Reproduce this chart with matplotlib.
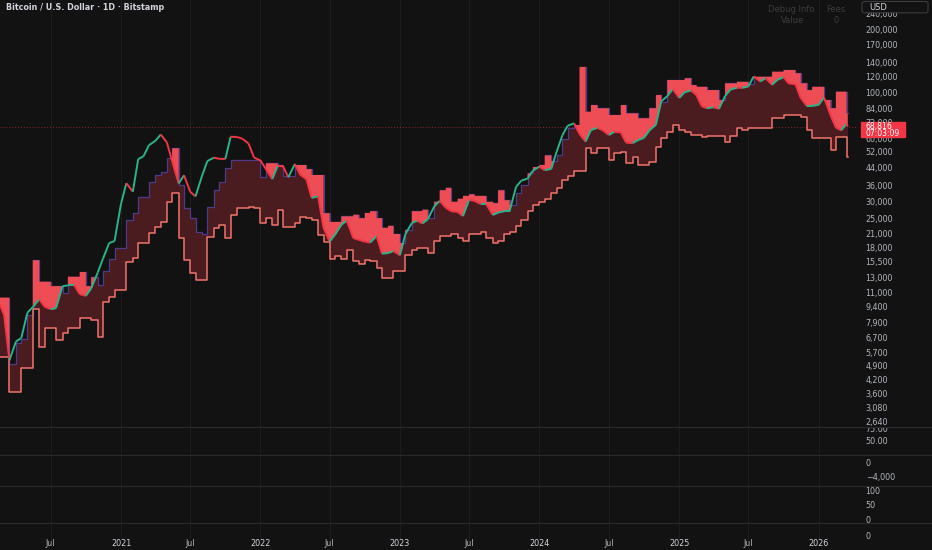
import numpy as np
import pandas as pd
import matplotlib
matplotlib.use("Agg")
import matplotlib.pyplot as plt
import matplotlib.dates as mdates
from matplotlib.collections import LineCollection
from matplotlib.lines import Line2D
from matplotlib.patches import Rectangle, FancyBboxPatch
from matplotlib.ticker import FixedLocator, NullLocator, FuncFormatter
from matplotlib.transforms import blended_transform_factory, Bbox, TransformedBbox

W, H = 932, 550

# semi-monthly samples (1st / 15th), last one is the live bar
dates = list(pd.date_range("2020-02-15", "2026-03-15", freq="SMS")) + [pd.Timestamp("2026-03-18")]

close_2020 = [10000, 8600, 5200, 6400, 6650, 8800, 9350, 10200, 9400, 9150, 9250,
              11800, 11900, 11900, 10800, 10600, 11500, 13700, 16000, 19000, 19400]
upper_2020 = [10400, 10400, 5000, 6300, 6600, 8600, 15700, 12400, 12400, 11800, 11800,
              11000, 13100, 13100, 13800, 11800, 13000, 12000, 14000, 16000, 18000]
lower_2020 = [5400, 5400, 3680, 3680, 4770, 4770, 9200, 6040, 7400, 7400, 6530,
              7050, 7400, 7400, 8270, 8270, 8100, 6750, 9940, 10500, 11300]

close_2021 = [29300, 36800, 33500, 48000, 49600, 56000, 58800, 63000, 57800, 46800, 36700, 40200,
              33500, 31800, 39900, 47000, 48800, 48200, 48100, 61500, 61300, 60100, 57000, 48900]
upper_2021 = [18000, 24500, 26400, 31700, 31700, 37400, 40300, 41800, 48400, 54100, 36000, 28000,
              25000, 21500, 21000, 28400, 34100, 37400, 43400, 47600, 47600, 47600, 47600, 47600]
lower_2021 = [11300, 15470, 16050, 18940, 18940, 21150, 22760, 24050, 30000, 32900, 20000, 15760,
              13600, 12630, 12630, 20390, 22360, 23190, 20000, 25900, 27880, 27880, 28400, 27880]

close_2022 = [47300, 43100, 38500, 44500, 44400, 39300, 45500, 40400, 38500, 31300, 31800, 22500,
              19300, 20800, 23300, 24300, 20100, 19700, 19300, 19100, 20500, 16900, 17000, 17400]
upper_2022 = [39550, 45850, 45850, 45000, 40000, 40000, 45000, 45000, 43000, 40300, 40300, 26400,
              24000, 24000, 25500, 25500, 26000, 25000, 26500, 27000, 25000, 22500, 23000, 21000]
lower_2022 = [23610, 24960, 23190, 27370, 22760, 22760, 23610, 25430, 24960, 24500, 20770, 19290,
              16000, 16500, 16000, 17500, 15500, 15000, 15800, 15500, 14500, 12900, 12900, 14000]

close_2023 = [16600, 20900, 23700, 24300, 23600, 24700, 28500, 30300, 28100, 27000, 26800, 25600,
              30600, 30300, 29200, 29200, 25900, 26600, 27000, 27000, 35400, 37900, 38700, 42300]
upper_2023 = [19000, 22000, 27000, 27000, 27500, 25000, 30000, 34000, 35000, 30000, 31000, 32000,
              32500, 32000, 32000, 30000, 29500, 34000, 30500, 29000, 33000, 36000, 41000, 44000]
lower_2023 = [14000, 16600, 17500, 18000, 18000, 17000, 19500, 20500, 20500, 21000, 20000, 19500,
              21000, 21000, 21500, 20000, 19000, 19500, 21000, 21500, 23000, 24500, 27000, 29000]

close_2024 = [44200, 42500, 43100, 52000, 62400, 69500, 71300, 63400, 58300, 66200, 67800, 66000,
              62700, 64800, 64600, 57600, 57300, 59200, 60800, 66000, 70200, 91000, 96400, 104300]
upper_2024 = [45000, 50000, 47000, 50000, 60000, 68000, 70000, 133000, 81100, 87300, 84200, 84200,
              78200, 78200, 87300, 79600, 79600, 75400, 75400, 84200, 97500, 90000, 115100, 115100]
lower_2024 = [30000, 31000, 33000, 35000, 38000, 40000, 42000, 42000, 54100, 51200, 54100, 54100,
              47600, 51200, 52100, 45900, 49300, 45000, 45000, 46700, 55100, 60400, 65000, 70000]

close_2025 = [94400, 100500, 102400, 97500, 86000, 84300, 85200, 83700, 96500, 103500, 105700, 105500,
              107100, 119800, 113300, 117400, 109200, 115300, 118600, 110700, 110000, 94400, 86300, 86400]
upper_2025 = [115100, 117300, 108900, 106800, 106800, 103000, 103000, 92300, 110900, 110900, 112900, 112900,
              110000, 119400, 119400, 119400, 126200, 126200, 128500, 128500, 124000, 110900, 103000, 106800]
lower_2025 = [66300, 65000, 62700, 62700, 61500, 62000, 62000, 62000, 58200, 62000, 67500, 66300,
              67500, 67500, 67500, 67500, 75400, 75400, 78200, 78200, 78200, 76700, 66300, 60400]

close_2026 = [87500, 95000, 78000, 68000, 66000, 71000, 68816]
upper_2026 = [106800, 92300, 84200, 101200, 101200, 79600, 79600]
lower_2026 = [60400, 60400, 53100, 61500, 61500, 49300, 49300]

close = np.array(close_2020 + close_2021 + close_2022 + close_2023 + close_2024 + close_2025 + close_2026, float)
upper = np.array(upper_2020 + upper_2021 + upper_2022 + upper_2023 + upper_2024 + upper_2025 + upper_2026, float)
lower = np.array(lower_2020 + lower_2021 + lower_2022 + lower_2023 + lower_2024 + lower_2025 + lower_2026, float)

last_price = 68816
price_ticks = [240000, 200000, 170000, 140000, 120000, 100000, 84000, 72000, 60000, 52000, 44000,
               36000, 30000, 25000, 21000, 18000, 15500, 13000, 11000, 9400, 7900, 6700, 5700,
               4900, 4200, 3600, 3080, 2640]
time_ticks = ["2020-07-01", "2021-01-01", "2021-07-01", "2022-01-01", "2022-07-01", "2023-01-01",
              "2023-07-01", "2024-01-01", "2024-07-01", "2025-01-01", "2025-07-01", "2026-01-01"]
time_labels = ["Jul", "2021", "Jul", "2022", "Jul", "2023", "Jul", "2024", "Jul", "2025", "Jul", "2026"]

BG = "#121212"
GRID = "#1d1d1d"
TXT = "#b2b5be"
GREEN = "#2bb38a"
RED = "#f23645"
BRIGHT = "#ee4d55"
DARK = "#4a1c1f"
LOWLINE = "#f0736c"


def box(x0, y0, x1, y1):
    # pixel box (top-left origin) -> figure fraction rect
    return [x0 / W, 1 - y1 / H, (x1 - x0) / W, (y1 - y0) / H]


fig = plt.figure(figsize=(W / 100, H / 100), dpi=100, facecolor=BG)
plt.rcParams['font.family'] = ['DejaVu Sans']

# x scale from label positions: 2021 at 121px, 2026 at 818.7px
d21 = mdates.date2num(pd.Timestamp("2021-01-01"))
d26 = mdates.date2num(pd.Timestamp("2026-01-01"))
ppd = (818.7 - 121) / (d26 - d21)
xlim = (d21 - 121 / ppd, d21 + (858 - 121) / ppd)

# --- main price pane ---
ax = fig.add_axes(box(0, 0, 858, 427.3))
ax.set_facecolor(BG)
ax.set_yscale("log")
ppdec = 208.4
ax.set_ylim(200000 / 10 ** ((427.3 - 30) / ppdec), 200000 * 10 ** (30 / ppdec))
ax.set_xlim(*xlim)

xs = mdates.date2num(dates)
tnum = mdates.date2num(pd.to_datetime(time_ticks))

for t in tnum:
    ax.axvline(t, color=GRID, lw=0.8, zorder=0)

ax.axhline(last_price, color=RED, lw=0.7, ls=(0, (1, 2)), alpha=0.55, zorder=1)

# dark band between the two step levels
ax.fill_between(xs, lower, upper, step="post", color=DARK, lw=0, zorder=2)
ax.step(xs, upper, where="post", color="#4d3a8a", lw=0.9, zorder=2.5)

# bright part from price up to the upper level
xseg = np.column_stack([xs[:-1], xs[1:]]).ravel()
cseg = np.column_stack([close[:-1], close[1:]]).ravel()
useg = np.repeat(upper[:-1], 2)
ax.fill_between(xseg, cseg, useg, where=useg > cseg, interpolate=True,
                color=BRIGHT, lw=0, zorder=3)

ax.step(xs, lower, where="post", color=LOWLINE, lw=1.1, zorder=4)

# price line, coloured per move
pts = np.column_stack([xs, close])
segs = np.stack([pts[:-1], pts[1:]], axis=1)
cols = np.where(close[1:] >= close[:-1], GREEN, RED)
ax.add_collection(LineCollection(segs, colors=cols, linewidths=1.4, zorder=5))

ax.yaxis.tick_right()
ax.yaxis.set_major_locator(FixedLocator(price_ticks))
ax.yaxis.set_minor_locator(NullLocator())
ax.yaxis.set_major_formatter(FuncFormatter(lambda v, _: f"{v:,.0f}"))
ax.tick_params(axis="y", length=0, pad=5.5, labelsize=5.8, labelcolor=TXT)
ax.tick_params(axis="x", bottom=False, labelbottom=False)
for s in ax.spines.values():
    s.set_visible(False)


# --- indicator panes underneath ---
def pane(top, bottom, ticks, labels, va, ya, vb, yb):
    p = fig.add_axes(box(0, top, 858, bottom))
    p.set_facecolor(BG)
    ppu = (yb - ya) / (va - vb)
    p.set_ylim(vb - (bottom - yb) / ppu, va + (ya - top) / ppu)
    p.set_xlim(*xlim)
    for t in tnum:
        p.axvline(t, color=GRID, lw=0.8, zorder=0)
    p.yaxis.tick_right()
    p.set_yticks(ticks)
    p.set_yticklabels(labels)
    p.tick_params(axis="y", length=0, pad=5.5, labelsize=5.8, labelcolor=TXT)
    p.tick_params(axis="x", bottom=False, labelbottom=False)
    for s in p.spines.values():
        s.set_visible(False)
    # scale labels are cut at the pane border, as in the app
    clip = TransformedBbox(Bbox.from_extents(0, 1 - bottom / H, 1, 1 - top / H), fig.transFigure)
    for tk in p.yaxis.get_major_ticks():
        tk.label2.set_clip_box(clip)
        tk.label2.set_clip_on(True)
    return p


pane(427.3, 455, [75, 50], ["75.00", "50.00"], 75, 428.5, 50, 441)
pane(455, 485.7, [0, -4000], ["0", "\u22124,000"], 0, 462.7, -4000, 476.7)
pane(485.7, 523.3, [100, 50, 0], ["100", "50", "0"], 100, 490.3, 50, 505)
pane(523.3, 540, [0], ["0"], 0, 535.7, -2, 539.9)

for y in [427.3, 455, 485.7, 523.3]:
    fig.add_artist(Line2D([0, 1], [1 - y / H] * 2, color="#292929", lw=0.8))

# time axis labels
tr = blended_transform_factory(ax.transData, fig.transFigure)
for t, lab in zip(tnum, time_labels):
    fig.text(t, 1 - 543.7 / H, lab, transform=tr, ha="center", va="center",
             fontsize=5.8, color="#d1d4dc" if lab != "Jul" else TXT)

# header texts
fig.text(6 / W, 1 - 7.5 / H, "Bitcoin / U.S. Dollar \u00b7 1D \u00b7 Bitstamp",
         fontsize=5.8, color="#d1d4dc", weight="bold", va="center")
fig.text(768 / W, 1 - 9 / H, "Debug Info", fontsize=6, color="#3c3c3c", va="center")
fig.text(826 / W, 1 - 9 / H, "Fees", fontsize=6, color="#3c3c3c", va="center")
fig.text(781 / W, 1 - 20.5 / H, "Value", fontsize=6, color="#3c3c3c", va="center")
fig.text(834 / W, 1 - 20.5 / H, "0", fontsize=6, color="#3c3c3c", va="center")

fig.add_artist(FancyBboxPatch((862 / W, 1 - 12.8 / H), 66 / W, 11.3 / H,
                              boxstyle="round,pad=0,rounding_size=0.003",
                              transform=fig.transFigure, fc=BG, ec="#3d3d3d", lw=0.8))
fig.text(869 / W, 1 - 7.2 / H, "USD", fontsize=6, color="#d1d4dc", va="center")

# last price tag
fig.add_artist(Rectangle((861 / W, 1 - 137 / H), 44 / W, 15 / H,
                         transform=fig.transFigure, color=RED, zorder=10))
fig.text(865 / W, 1 - 126.3 / H, f"{last_price:,}", fontsize=5.6, color="white",
         va="center", zorder=11)
fig.text(865 / W, 1 - 133 / H, "07:03:09", fontsize=5.6, color="white",
         va="center", zorder=11)

fig.savefig("out.png", dpi=100, facecolor=BG)
